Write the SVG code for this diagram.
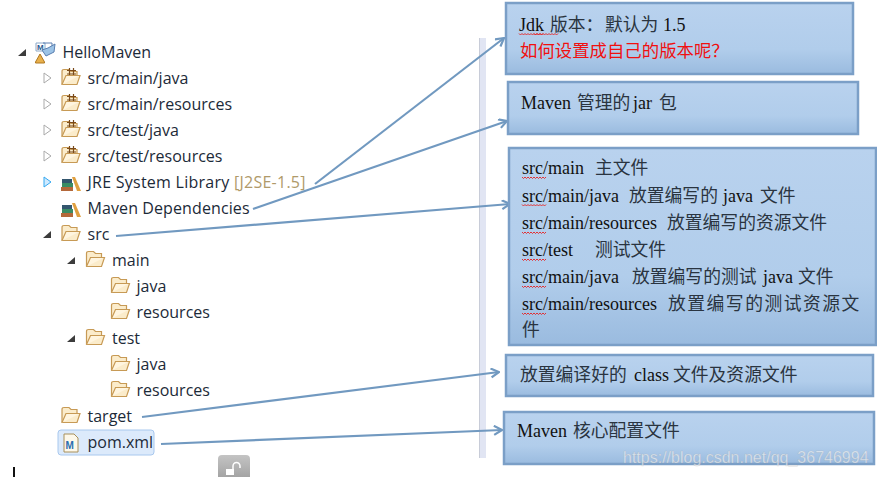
<svg xmlns="http://www.w3.org/2000/svg" width="877" height="477" viewBox="0 0 877 477">
<style>
.t{font-family:"Open Sans","Noto Sans",sans-serif;font-size:16px;fill:#1c2a38}
.b{fill:url(#g);stroke:#7b9fc7;stroke-width:2.5}
.x{font-family:"Liberation Serif","Noto Sans CJK SC",serif;font-size:18px;fill:#111}
.h{font-size:17.8px;fill:#2a3440}
.c{fill:none;stroke:#7199c0;stroke-width:2.2;marker-end:url(#a)}
.o{fill:#fff;stroke:#aaa;stroke-width:1}
.s{fill:#3c3c3c}
</style>
<defs>
<linearGradient id="g" x1="0" y1="0" x2="0" y2="1"><stop offset="0" stop-color="#b9d2ee"/><stop offset=".65" stop-color="#b1cdeb"/><stop offset="1" stop-color="#9abbdf"/></linearGradient>
<linearGradient id="k" x1="0" y1="0" x2="0" y2="1"><stop offset="0" stop-color="#c4c4c4"/><stop offset="1" stop-color="#a4a4a4"/></linearGradient>
<marker id="a" markerWidth="10" markerHeight="12" refX="9" refY="5" orient="auto" markerUnits="userSpaceOnUse"><path d="M1 .5L9 5L1 9.500" fill="none" stroke="#7199c0" stroke-width="2.200"/></marker>
<g id="f"><path d="M1 3.500q0-2 2-2h5l2 2h6v4h3l-3 9H1z" fill="#fbeccb" stroke="#c79a55" stroke-width="1.200"/><path d="M1 16.500l4-9h14" fill="#fff5df" stroke="#c79a55" stroke-width="1.200"/></g>
<g id="p"><use href="#f"/><path d="M6 2.500h9M6 6h9M8.500 0v7M12.500 0v7" fill="none" stroke="#7a4a1a" stroke-width="1.200"/></g>
<g id="l"><rect x="0" y="10" width="12" height="4" fill="#b4683a"/><rect x="1" y="6" width="11" height="4" fill="#3a8c64"/><rect x="1" y="2" width="10" height="4" fill="#33566e"/><path d="M11 0l3 0l6 14h-4z" fill="#e0a040"/></g>
<path id="w" d="M0 1l1.500 1.500l1.500-1.500l1.500 1.500l1.500-1.500l1.500 1.500l1.500-1.500l1.500 1.500l1.500-1.500l1.500 1.500l1.500-1.500l1.500 1.500l1.500-1.500l1.500 1.500l1.500-1.500l1.500 1.500l1.500-1.500" fill="none" stroke="#e62020" stroke-width=".9"/>
</defs>
<rect x="480" y="38" width="6" height="420" fill="#e1e5f3"/>
<rect x="479" y="38" width="1" height="420" fill="#c8ccd8"/>
<g id="tree">
<path class="s" d="M18 56l8-7v7z"/>
<g id="hello"><path d="M36 43h9v8h-9z" fill="#fff" stroke="#8aa8c8"/><text x="37" y="50" font-family="Liberation Sans,sans-serif" font-size="8" font-weight="bold" fill="#2a5a90">M</text><path d="M43 43h9v6" fill="none" stroke="#5a7fb0"/><path d="M42 50l6-2l7-4l-1 8l-8 4z" fill="#9cc3e6" stroke="#5a7fb0"/><path d="M40 54l4.500 8v1h-9v-1z" fill="#e8b04c" stroke="#b07820"/><text class="t" x="62.500" y="58">HelloMaven</text></g>
<g id="n1"><path class="o" d="M44 73l7 5l-7 5z"/><use href="#p" x="61" y="68"/><text class="t" x="87.500" y="84">src/main/java</text></g>
<g id="n2"><path class="o" d="M44 99l7 5l-7 5z"/><use href="#p" x="61" y="94"/><text class="t" x="87.500" y="110">src/main/resources</text></g>
<g id="n3"><path class="o" d="M44 125l7 5l-7 5z"/><use href="#p" x="61" y="120"/><text class="t" x="87.500" y="136">src/test/java</text></g>
<g id="n4"><path class="o" d="M44 151l7 5l-7 5z"/><use href="#p" x="61" y="146"/><text class="t" x="87.500" y="162">src/test/resources</text></g>
<g id="n5"><path d="M44 177l7 5l-7 5z" fill="#cfeaff" stroke="#35a8f0"/><use href="#l" x="61" y="177"/><text class="t" x="87.500" y="188" textLength="218">JRE System Library <tspan fill="#b09a6a">[J2SE-1.5]</tspan></text></g>
<g id="n6"><use href="#l" x="61" y="203"/><text class="t" x="87.500" y="214" textLength="162">Maven Dependencies</text></g>
<g id="n7"><path class="s" d="M43 238l8-7v7z"/><use href="#f" x="61" y="224"/><text class="t" x="87.500" y="240">src</text></g>
<g id="n8"><path class="s" d="M67 264l8-7v7z"/><use href="#f" x="85.500" y="250"/><text class="t" x="112" y="266">main</text></g>
<g id="n9"><use href="#f" x="110.500" y="276"/><text class="t" x="136.500" y="292">java</text></g>
<g id="n10"><use href="#f" x="110.500" y="302"/><text class="t" x="136.500" y="318">resources</text></g>
<g id="n11"><path class="s" d="M67 342l8-7v7z"/><use href="#f" x="85.500" y="328"/><text class="t" x="112" y="344">test</text></g>
<g id="n12"><use href="#f" x="110.500" y="354"/><text class="t" x="136.500" y="370">java</text></g>
<g id="n13"><use href="#f" x="110.500" y="380"/><text class="t" x="136.500" y="396">resources</text></g>
<g id="n14"><use href="#f" x="61" y="406"/><text class="t" x="87.500" y="422">target</text></g>
<g id="n15"><rect x="58" y="430" width="96" height="25" rx="3" fill="#dceafb" stroke="#a8c8ee"/><path d="M64 434h10l4 4v14H64z" fill="#fdf8ea" stroke="#a8905a"/><text x="65.500" y="449" font-family="Liberation Sans,sans-serif" font-size="10" font-weight="bold" fill="#2a6db0">M</text><text class="t" x="87.500" y="448">pom.xml</text></g>
</g>
<rect x="13" y="467" width="2" height="10" fill="#111"/>
<g id="lock"><path d="M218 477v-18a4 4 0 0 1 4-4h24a4 4 0 0 1 4 4v18z" fill="url(#k)"/><rect x="226" y="469" width="8" height="6" fill="#fff"/><path d="M233 469v-3a3 3 0 0 1 7 0v2" fill="none" stroke="#fff" stroke-width="1.500"/></g>
<g id="connectors">
<path class="c" d="M315 184L504 38"/>
<path class="c" d="M253 209L507 121"/>
<path class="c" d="M116 236L510 204"/>
<path class="c" d="M142 417L499 372"/>
<path class="c" d="M161 444L502 430"/>
</g>
<g id="box1"><rect class="b" x="506" y="3" width="347" height="71"/><text class="x" y="30.500"><tspan x="519">Jdk</tspan><tspan x="550" class="h">版本：</tspan><tspan x="605" class="h">默认为</tspan><tspan x="663">1.5</tspan></text><text class="x h" x="520" y="57" style="fill:#f01010;font-size:17.4px">如何设置成自己的版本呢？</text><use href="#w" x="519" y="32.500"/><use href="#w" x="534" y="32.500"/></g>
<g id="box2"><rect class="b" x="508" y="82" width="350" height="52"/><text class="x" y="109"><tspan x="521">Maven</tspan><tspan x="577" class="h">管理的</tspan><tspan x="633">jar</tspan><tspan x="659" class="h">包</tspan></text></g>
<g id="box3"><rect class="b" x="509" y="148" width="367" height="197"/>
<text class="x" y="174"><tspan x="522">src/main</tspan><tspan x="595" class="h">主文件</tspan></text>
<text class="x" y="202"><tspan x="522">src/main/java</tspan><tspan x="629" class="h">放置编写的</tspan><tspan x="723">java</tspan><tspan x="760" class="h">文件</tspan></text>
<text class="x" y="229"><tspan x="522">src/main/resources</tspan><tspan x="667" class="h">放置编写的资源文件</tspan></text>
<text class="x" y="256"><tspan x="522">src/test</tspan><tspan x="595" class="h">测试文件</tspan></text>
<text class="x" y="283"><tspan x="522">src/main/java</tspan><tspan x="632" class="h">放置编写的测试</tspan><tspan x="763">java</tspan><tspan x="798" class="h">文件</tspan></text>
<text class="x" y="310"><tspan x="522">src/main/resources</tspan><tspan x="668" class="h" letter-spacing="1.500">放置编写的测试资源文</tspan></text>
<text class="x h" x="522" y="336">件</text>
<use href="#w" x="522" y="176"/><use href="#w" x="522" y="203.500"/><use href="#w" x="522" y="231"/><use href="#w" x="522" y="258"/><use href="#w" x="522" y="285"/><use href="#w" x="522" y="312"/></g>
<g id="box4"><rect class="b" x="506" y="355" width="367" height="41"/><text class="x" y="381"><tspan x="520" class="h">放置编译好的</tspan><tspan x="634">class</tspan><tspan x="673" class="h">文件及资源文件</tspan></text></g>
<g id="box5"><rect class="b" x="504" y="412" width="370" height="52"/><text class="x" y="437"><tspan x="517">Maven</tspan><tspan x="573" class="h">核心配置文件</tspan></text></g>
<text x="623" y="463" font-family="Liberation Sans,sans-serif" font-size="16" fill="#fff" fill-opacity=".6" stroke="#999" stroke-opacity=".35" stroke-width=".6">https://blog.csdn.net/qq_36746994</text>
</svg>
